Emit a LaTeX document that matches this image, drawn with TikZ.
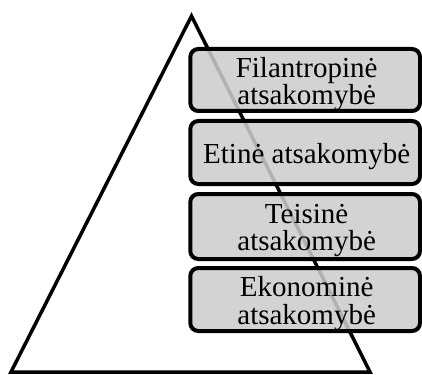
\documentclass[tikz,border=0pt]{standalone}
\usepackage{fontspec}
\setmainfont{Liberation Serif}
\definecolor{boxgray}{gray}{0.80}
\begin{document}
\begin{tikzpicture}[x=1pt,y=-1pt,
  level/.style={draw=black, line width=4pt, rounded corners=8pt,
    fill=boxgray, fill opacity=0.87, inner sep=0pt,
    minimum width=229.7pt},
  leveltext/.style={inner sep=0pt, align=center, text=black,
    font=\fontsize{29pt}{27.5pt}\selectfont},
  pyramid/.style={line width=3.5pt, line join=miter}]
  \useasboundingbox (0,0) rectangle (422,374);

  % the pyramid outline, drawn first so the boxes lie over it
  \coordinate (apex) at (191.5,16);
  \coordinate (baseL) at (11,372);
  \coordinate (baseR) at (370,372);
  \draw[pyramid] (apex) -- (baseL) -- (baseR) -- cycle;

  % the four levels of responsibility
  \node[level, minimum height=62pt] (phil) at (305.15,80) {};
  \node[level, minimum height=63pt] (eth) at (305.15,152.5) {};
  \node[level, minimum height=65pt] (leg) at (305.15,226.5) {};
  \node[level, minimum height=63pt] (eco) at (305.15,299.5) {};

  % their labels, set a little below the box centres
  \node[leveltext] (phil-t) at ([xshift=1.5pt,yshift=-4pt]phil.center) {Filantropinė\\atsakomybė};
  \node[leveltext] (eth-t) at ([xshift=1.5pt,yshift=-4pt]eth.center) {Etinė atsakomybė};
  \node[leveltext] (leg-t) at ([xshift=1.5pt,yshift=-4pt]leg.center) {Teisinė\\atsakomybė};
  \node[leveltext] (eco-t) at ([xshift=1.5pt,yshift=-4pt]eco.center) {Ekonominė\\atsakomybė};
\end{tikzpicture}
\end{document}
